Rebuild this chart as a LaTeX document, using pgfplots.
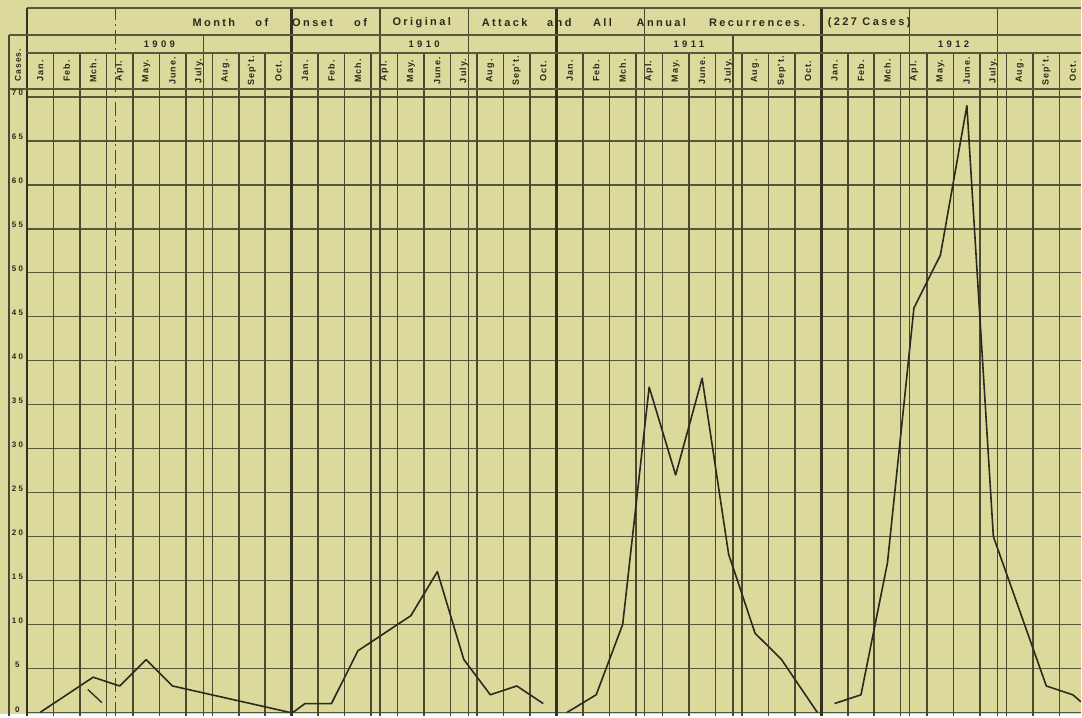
\documentclass[border=0pt]{standalone}
\usepackage{pgfplots}
\pgfplotsset{compat=1.18}
\usepackage{fontspec}
\setmainfont{Liberation Sans}
\newfontfamily\ttl[LetterSpace=22]{Liberation Sans}
\newfontfamily\yrf[LetterSpace=35]{Liberation Sans}
\newfontfamily\mthf[LetterSpace=12]{Liberation Sans}
\newfontfamily\numf[LetterSpace=30]{Liberation Sans}

\definecolor{paper}{RGB}{219,218,156}
\definecolor{rulethin}{RGB}{88,88,60}
\definecolor{rulemid}{RGB}{74,74,50}
\definecolor{ruledark}{RGB}{50,50,35}
\definecolor{ink}{RGB}{42,42,30}

\begin{document}
\begin{tikzpicture}
% paper
\fill[paper] (0,0) rectangle (1082pt,715pt);

% chart paper rulings: x = month column, y = cases
\begin{scope}[x=26.5pt, y=8.8pt, shift={(27pt,2pt)},
  hline/.style={rulethin, line width=1.5pt},
  mline/.style={rulemid, line width=1.6pt},
  tline/.style={rulemid, line width=1.1pt},
  yline/.style={ruledark, line width=2.6pt},
  txt/.style={ink, inner sep=0pt}]
  \foreach \y in {0,5,...,70} \draw[hline] (0,\y) -- (39.82,\y);
  \foreach \x in {1,...,39} \draw[mline] (\x,-0.4) -- (\x,75);
  \foreach \x in {13.333,23.333,33.333,16.667,36.667} \draw[tline] (\x,-0.4) -- (\x,80.11);
  \draw[tline] (26.667,-0.4) -- (26.667,77.05);
  \draw[tline, dash pattern=on 14pt off 4pt on 2pt off 4pt] (3.333,-0.4) -- (3.333,80.11);
  \draw[tline] (6.667,-0.4) -- (6.667,77.05);
  \foreach \x in {0,10,20,30} \draw[yline] (\x,-0.4) -- (\x,80.11);
  \draw[mline] (-0.679,-0.4) -- (-0.679,77.05);
  \draw[hline] (0,80.11) -- (39.82,80.11);
  \draw[hline] (-0.679,77.05) -- (39.82,77.05);
  \draw[hline] (0,75) -- (39.82,75);
  \draw[hline] (-0.679,70.91) -- (39.82,70.91);

  % title row
  \begin{scope}[every node/.style={txt, font=\ttl\fontsize{11}{12}\bfseries}]
    \node at (7.06,78.41) {Month};
    \node at (8.87,78.41) {of};
    \node at (10.79,78.41) {Onset};
    \node at (12.60,78.41) {of};
    \node at (14.91,78.41) {Original};
    \node at (18.04,78.41) {Attack};
    \node at (20.11,78.41) {and};
    \node at (21.74,78.41) {All};
    \node at (23.96,78.41) {Annual};
    \node at (27.58,78.41) {Recurrences.};
    \node at (31.81,78.41) {(227 Cases)};
  \end{scope}

  % years
  \begin{scope}[every node/.style={txt, font=\yrf\fontsize{9.5}{10}\bfseries}]
    \node at (5,76.02) {1909};
    \node at (15,76.02) {1910};
    \node at (25,76.02) {1911};
    \node at (35,76.02) {1912};
  \end{scope}

  % months
  \foreach \o in {0,10,20,30} {
    \foreach \m [count=\i from 0] in {Jan.,Feb.,Mch.,Apl.,May.,June.,July.,Aug.,Sep't.,Oct.} {
      \node[txt, rotate=90, font=\mthf\fontsize{9}{10}\bfseries] at (\o+\i+0.5,72.95) {\m};
    }
  }

  % cases scale
  \node[txt, rotate=90, font=\mthf\fontsize{8.5}{9}\bfseries] at (-0.34,73.6) {Cases.};
  \foreach \v in {5,10,...,70}
    \node[txt, font=\numf\fontsize{8}{9}\bfseries] at (-0.36,\v+0.45) {\v};
  \node[txt, font=\numf\fontsize{8}{9}\bfseries] at (-0.36,0.3) {0};
\end{scope}

\begin{axis}[
  at={(0,0)}, anchor=south west,
  scale only axis,
  width=1082pt, height=715pt,
  xmin=-1.018868, xmax=39.811321,
  ymin=-0.227273, ymax=81.022727,
  axis lines=none,
  xtick=\empty, ytick=\empty,
]
% 1909
\addplot[ink, line width=1.6pt, line join=round] coordinates {
  (0.5,0) (2.5,4) (3.5,3) (4.5,6) (5.5,3) (9.92,0)
};
\addplot[ink, line width=1.3pt] coordinates {(2.30,2.6) (2.83,1.1)};
% 1910
\addplot[ink, line width=1.6pt, line join=round] coordinates {
  (10.05,0) (10.5,1) (11.5,1) (12.5,7) (14.5,11) (15.5,16)
  (16.5,6) (17.5,2) (18.5,3) (19.5,1)
};
% 1911
\addplot[ink, line width=1.6pt, line join=round] coordinates {
  (20.4,0) (21.5,2) (22.5,10) (23.5,37) (24.5,27) (25.5,38)
  (26.5,18) (27.5,9) (28.5,6) (29.85,0)
};
% 1912
\addplot[ink, line width=1.6pt, line join=round] coordinates {
  (30.5,1) (31.5,2) (32.5,17) (33.5,46) (34.5,52) (35.5,69)
  (36.5,20) (38.5,3) (39.5,2) (39.81,1.2)
};
\end{axis}
\end{tikzpicture}
\end{document}
